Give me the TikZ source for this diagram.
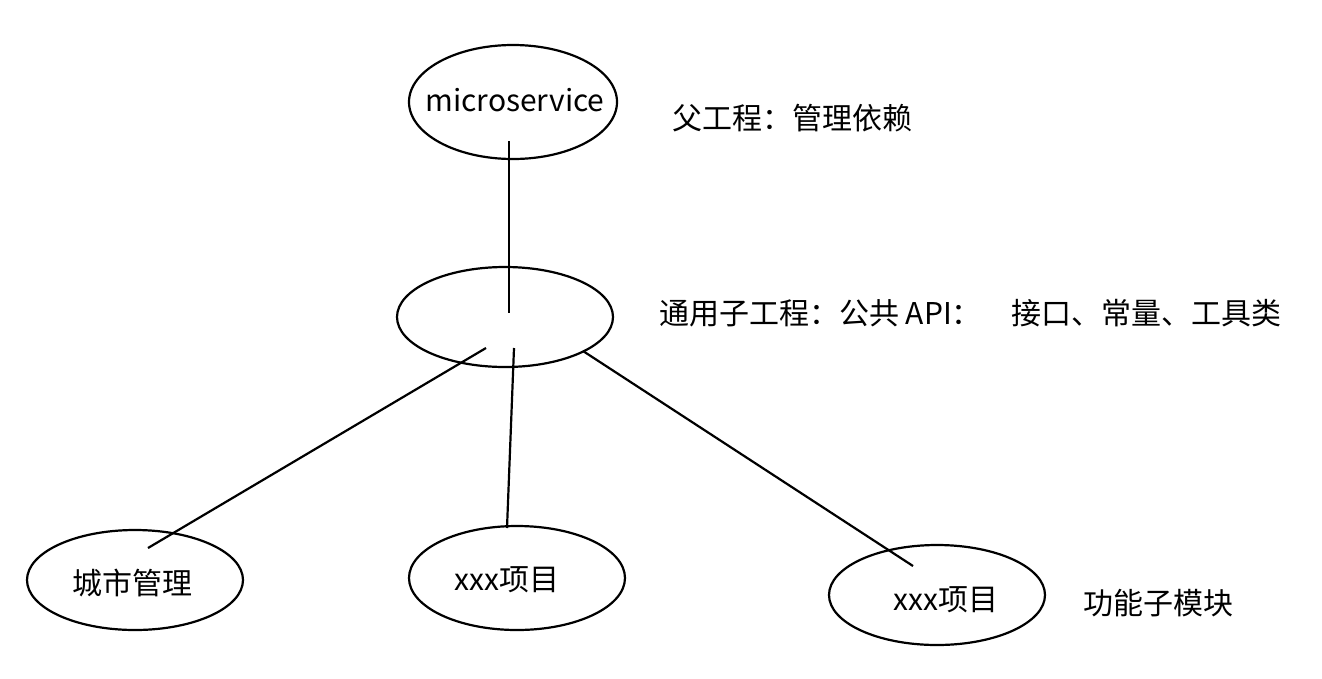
\documentclass[tikz,border=0pt]{standalone}
\usepackage{fontspec}
\setmainfont{Noto Sans CJK SC}
\usetikzlibrary{shapes.geometric}
\begin{document}
\begin{tikzpicture}[x=1pt,y=-1pt,
  ell/.style={draw, ellipse, line width=2.2pt, inner sep=0pt},
  lbl/.style={font=\fontsize{30}{35}\selectfont, inner sep=0pt},
  conn/.style={line width=2.2pt}]
\useasboundingbox (0,0) rectangle (1322,678);
% ellipses
\node[ell, minimum width=208pt, minimum height=114pt] (ms) at (513,102) {};
\node[ell, minimum width=216pt, minimum height=100pt] (common) at (505,317) {};
\node[ell, minimum width=216pt, minimum height=100pt] (city) at (135,580) {};
\node[ell, minimum width=216pt, minimum height=104pt] (projA) at (517,578) {};
\node[ell, minimum width=216pt, minimum height=100pt] (projB) at (937,595) {};
% texts
\node[lbl] (tms) at (515,100) {microservice};
\node[lbl, anchor=west] (tparent) at (672,118) {父工程：管理依赖};
\node[lbl, anchor=west] (tcommon) at (659,313) {通用子工程：公共 API：\hspace{1em}接口、常量、工具类};
\node[lbl] (tcity) at (132,583) {城市管理};
\node[lbl] (tprojA) at (507,580) {xxx项目};
\node[lbl] (tprojB) at (946,600) {xxx项目};
\node[lbl, anchor=west] (tmod) at (1083,603) {功能子模块};
% connector end points
\coordinate (p1) at (509,141);
\coordinate (p2) at (509,313);
\coordinate (q1) at (486,348);
\coordinate (q2) at (148,548);
\coordinate (r1) at (514,348);
\coordinate (r2) at (507,528);
\coordinate (s1) at (583,351);
\coordinate (s2) at (913,566);
% connectors
\draw[conn] (p1) -- (p2);
\draw[conn] (q1) -- (q2);
\draw[conn] (r1) -- (r2);
\draw[conn] (s1) -- (s2);
\end{tikzpicture}
\end{document}
